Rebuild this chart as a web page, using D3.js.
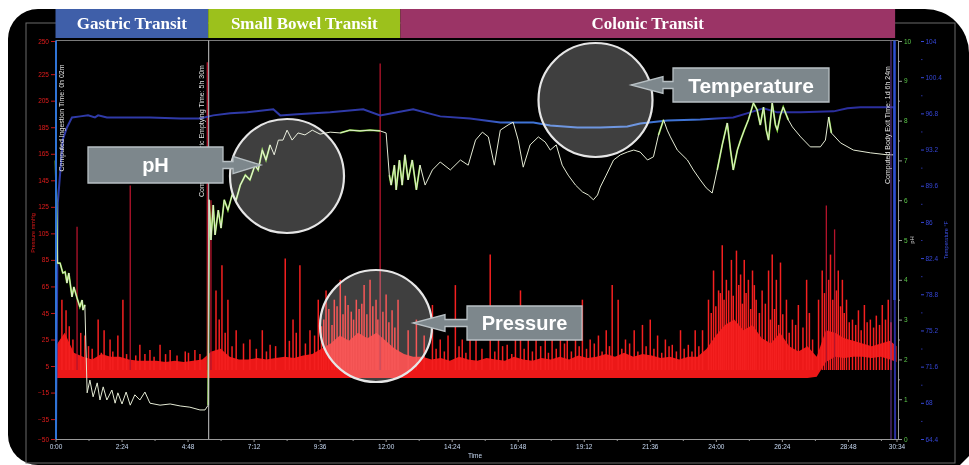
<!DOCTYPE html>
<html lang="en">
<head>
<meta charset="utf-8">
<title>SmartPill motility recording</title>
<script src="https://d3js.org/d3.v7.min.js"></script>
<style>
  body { margin: 0; background: #fff; }
  svg { display: block; }
</style>
</head>
<body>
<script>
// ---- values (time in minutes) ----
var phaseNames  = ["Gastric Transit", "Small Bowel Transit", "Colonic Transit"];
var phaseStart  = [0, 333, 752];
var phaseEnd    = [333, 752, 1831];
var phaseColors = ["#3f5fa9", "#9cc11c", "#9b3466"];

var timeTicks  = [0, 144, 288, 432, 576, 720, 864, 1008, 1152, 1296, 1440, 1584, 1728, 1834];
var timeLabels = ["0:00", "2:24", "4:48", "7:12", "9:36", "12:00", "14:24", "16:48", "19:12", "21:36", "24:00", "26:24", "28:48", "30:34"];
var timeMinor  = [72, 216, 360, 504, 648, 792, 936, 1080, 1224, 1368, 1512, 1656, 1800];

var pressureTicks = [-50, -35, -15, 5, 25, 45, 65, 85, 105, 125, 145, 165, 185, 205, 225, 250];
var phTicks   = [0, 1, 2, 3, 4, 5, 6, 7, 8, 9, 10];
var phMinor   = [0.5, 1.5, 2.5, 3.5, 4.5, 5.5, 6.5, 7.5, 8.5, 9.5];
var tempTicks = [64.4, 68, 71.6, 75.2, 78.8, 82.4, 86, 89.6, 93.2, 96.8, 100.4, 104];
var tempMinor = [66.2, 69.8, 73.4, 77, 80.6, 84.2, 87.8, 91.4, 95, 98.6, 102.2];

var markerTimes  = [2, 333, 1829];
var markerLabels = ["Computed Ingestion Time: 0h 02m", "Computed Gastric Emptying Time: 5h 30m", "Computed Body Exit Time: 1d 6h 24m"];

// pressure baseline band (mmHg), sampled every 20 min
var bandTimes = [0, 20, 40, 60, 80, 100, 120, 140, 160, 180,
  200, 220, 240, 260, 280, 300, 320, 340, 360, 380,
  400, 420, 440, 460, 480, 500, 520, 540, 560, 580,
  600, 620, 640, 660, 680, 700, 720, 740, 760, 780,
  800, 820, 840, 860, 880, 900, 920, 940, 960, 980,
  1000, 1020, 1040, 1060, 1080, 1100, 1120, 1140, 1160, 1180,
  1200, 1220, 1240, 1260, 1280, 1300, 1320, 1340, 1360, 1380,
  1400, 1420, 1440, 1460, 1480, 1500, 1520, 1540, 1560, 1580,
  1600, 1620, 1640, 1660, 1680, 1700, 1720, 1740, 1760, 1780,
  1800, 1820, 1834];
var bandHigh = [20, 30, 15, 12, 10, 14, 12, 12, 10, 9,
  9, 9, 8, 9, 8, 9, 10, 16, 18, 12,
  10, 10, 11, 10, 11, 12, 11, 13, 14, 18,
  22, 28, 24, 30, 26, 30, 24, 18, 14, 12,
  12, 10, 11, 9, 12, 10, 9, 11, 10, 9,
  12, 10, 9, 11, 10, 12, 10, 13, 11, 12,
  14, 12, 15, 12, 14, 13, 11, 12, 10, 12,
  12, 18, 28, 36, 40, 32, 36, 26, 22, 30,
  20, 16, 20, 12, 32, 30, 26, 24, 22, 20,
  22, 24, 20];
var bandLow = [-4, -4, -4, -4, -4, -4, -4, -4, -4, -4,
  -4, -4, -4, -4, -4, -4, -4, -4, -4, -4,
  -4, -4, -4, -4, -4, -4, -4, -4, -4, -4,
  -4, -4, -4, -4, -4, -4, -4, -4, -4, -4,
  -4, -4, -4, -4, -4, -4, -4, -4, -4, -4,
  -4, -4, -4, -4, -4, -4, -4, -4, -4, -4,
  -4, -4, -4, -4, -4, -4, -4, -4, -4, -4,
  -4, -4, -4, -4, -4, -4, -4, -4, -4, -4,
  -4, -4, -4, -3, 8, 12, 11, 12, 12, 11,
  12, 10, 8];

// pressure contractions [minute, peak mmHg]
var pressureSpikes = [
  [14, 55], [23, 47], [30, 35], [38, 25], [47, 110], [55, 30], [64, 28], [72, 20], [80, 18], [93, 40],
  [100, 15], [106, 32], [119, 25], [125, 16], [136, 28], [147, 55], [155, 14], [163, 141], [175, 13], [184, 21],
  [195, 14], [206, 17], [215, 12], [228, 21], [240, 14], [250, 17], [265, 13], [283, 16], [290, 15], [304, 17], [315, 14],
  [331, 234], [339, 130], [350, 62], [357, 40], [363, 81], [370, 30], [376, 55], [385, 20], [394, 32], [410, 22],
  [424, 25], [438, 18], [451, 32], [460, 16], [468, 21], [480, 20], [501, 86], [510, 24], [518, 40], [525, 30],
  [533, 81], [545, 22], [555, 32], [565, 28], [573, 55], [580, 35], [585, 40], [590, 62], [596, 48], [603, 36],
  [608, 55], [614, 50], [621, 70], [627, 44], [632, 58], [638, 51], [645, 46], [650, 40], [656, 55], [662, 48],
  [668, 52], [673, 66], [679, 44], [686, 70], [692, 50], [699, 55], [703, 40], [708, 233], [714, 46], [721, 59],
  [727, 38], [734, 47], [740, 34], [747, 55],
  [769, 32], [787, 40], [804, 28], [822, 51], [830, 18], [839, 25], [848, 16], [856, 28], [872, 66], [880, 20],
  [887, 25], [895, 15], [904, 32], [917, 28], [930, 18], [948, 89], [958, 16], [966, 25], [975, 20], [985, 21],
  [995, 14], [1003, 32], [1014, 62], [1022, 18], [1031, 25], [1040, 16], [1048, 40], [1058, 20], [1068, 25], [1075, 15],
  [1083, 28], [1092, 18], [1101, 36], [1110, 22], [1116, 25], [1125, 16], [1134, 43], [1142, 20], [1149, 55], [1158, 18],
  [1166, 25], [1175, 22], [1184, 28], [1192, 16], [1201, 32], [1208, 20], [1214, 66], [1227, 55], [1235, 18], [1243, 25],
  [1252, 22], [1262, 32], [1270, 16], [1280, 36], [1288, 20], [1297, 40], [1305, 18], [1313, 28], [1322, 15], [1330, 25],
  [1338, 20], [1345, 21], [1354, 16], [1363, 32], [1371, 18], [1380, 21], [1388, 16], [1395, 32], [1403, 20], [1411, 32],
  [1424, 55], [1430, 45], [1435, 77], [1440, 50], [1446, 62], [1450, 60], [1454, 96], [1458, 55], [1463, 70], [1468, 62],
  [1474, 85], [1478, 58], [1485, 92], [1490, 66], [1494, 74], [1498, 52], [1502, 85], [1506, 60], [1511, 70], [1516, 48],
  [1520, 77], [1524, 66], [1528, 55], [1535, 45], [1541, 62], [1548, 52], [1555, 77], [1559, 40], [1563, 89], [1568, 48],
  [1572, 70], [1577, 36], [1581, 83], [1586, 44], [1594, 55], [1600, 30], [1607, 40], [1614, 36], [1620, 51], [1630, 34],
  [1638, 70], [1644, 45], [1651, 25], [1664, 55], [1672, 77], [1677, 60], [1681, 126], [1686, 70], [1690, 89], [1695, 55],
  [1699, 108], [1703, 62], [1707, 77], [1712, 50], [1716, 70], [1720, 45], [1725, 55], [1731, 38], [1738, 40], [1745, 36],
  [1751, 47], [1757, 32], [1764, 51], [1770, 38], [1777, 40], [1784, 34], [1790, 43], [1797, 36], [1803, 51], [1810, 40],
  [1816, 55], [1822, 38]];

// pH trace [minute, pH]
var phReadings = [
  [0, 7.0], [2, 6.0], [4, 4.42], [10, 4.42], [16, 4.17], [21, 4.2], [25, 3.92], [29, 4.17], [36, 3.57], [40, 3.82],
  [47, 3.54], [53, 3.32], [58, 3.49], [60, 3.24], [64, 3.37], [69, 1.16], [75, 1.48], [82, 1.06], [91, 1.41], [97, 0.98],
  [104, 1.31], [112, 0.98], [123, 1.23], [130, 0.9], [136, 1.16], [145, 0.88], [154, 1.18], [163, 0.85], [173, 1.11], [184, 0.98],
  [195, 1.18], [206, 0.9], [228, 0.85], [250, 0.88], [272, 0.83], [293, 0.8], [315, 0.73], [326, 0.73], [333, 0.85], [335, 6.01],
  [339, 5.0], [344, 5.88], [348, 5.13], [355, 5.75], [361, 5.3], [368, 6.01], [376, 5.75], [385, 6.13], [394, 6.01], [403, 6.38],
  [414, 6.63], [424, 6.51], [435, 6.88], [442, 6.76], [451, 7.26], [459, 7.01], [468, 7.39], [477, 7.14], [486, 7.51], [496, 7.51],
  [505, 7.76], [516, 7.51], [529, 7.69], [544, 7.64], [560, 7.76], [577, 7.66], [599, 7.71], [621, 7.69], [642, 7.76], [664, 7.74],
  [686, 7.76], [708, 7.74], [721, 7.69], [728, 6.63], [732, 6.38], [739, 6.88], [743, 6.26], [750, 7.01], [756, 6.38], [762, 7.14],
  [769, 6.51], [778, 7.01], [787, 6.26], [795, 6.88], [806, 6.38], [822, 6.76], [839, 6.96], [861, 6.76], [883, 7.01], [900, 6.88],
  [916, 7.51], [931, 7.71], [944, 7.59], [957, 6.88], [970, 7.76], [987, 7.89], [998, 7.96], [1009, 7.51], [1020, 6.83], [1035, 7.39],
  [1053, 7.59], [1068, 7.46], [1079, 7.26], [1092, 7.39], [1105, 6.88], [1118, 6.63], [1134, 6.38], [1149, 6.21], [1162, 6.13], [1173, 6.01],
  [1182, 6.13], [1188, 6.33], [1201, 6.63], [1217, 7.01], [1232, 7.14], [1247, 7.21], [1261, 7.26], [1275, 7.21], [1291, 7.01], [1304, 7.09],
  [1315, 7.64], [1326, 8.02], [1334, 7.76], [1341, 7.59], [1356, 7.26], [1378, 7.01], [1391, 6.76], [1406, 6.51], [1419, 6.31], [1432, 6.18],
  [1443, 6.76], [1454, 7.39], [1465, 7.94], [1472, 7.26], [1478, 6.76], [1487, 7.26], [1494, 7.51], [1502, 7.76], [1511, 8.02], [1522, 8.44],
  [1530, 8.27], [1537, 7.89], [1544, 8.34], [1550, 7.76], [1555, 7.51], [1563, 8.44], [1570, 7.89], [1574, 7.76], [1581, 8.14], [1587, 8.34],
  [1598, 8.02], [1607, 7.84], [1625, 7.59], [1646, 7.34], [1668, 7.34], [1679, 7.51], [1686, 8.09], [1692, 7.69], [1712, 7.44], [1740, 7.26],
  [1777, 7.19], [1814, 7.14], [1827, 7.14]];
// stretches where the pH trace shows green
var phGreenSpans = [[0, 68], [93, 100], [110, 118], [133, 140], [333, 470], [600, 720], [728, 800], [1310, 1330], [1440, 1600], [1680, 1692]];

// temperature trace [minute, degF]
var tempReadings = [
  [0, 64.4], [1, 64.4], [5, 87.9], [16, 94.2], [25, 95.4], [36, 96.4], [54, 96.5], [71, 96.6], [86, 96.4], [93, 96.6],
  [112, 96.4], [141, 96.4], [206, 96.4], [272, 96.3], [315, 96.3], [344, 96.6], [381, 96.8], [418, 96.9], [475, 97.2], [490, 96.6],
  [527, 96.7], [599, 96.9], [671, 97.2], [708, 96.6], [745, 96.9], [780, 97.2], [839, 96.5], [904, 96.3], [970, 95.9], [1042, 95.9],
  [1079, 95.6], [1138, 95.4], [1188, 95.4], [1247, 95.5], [1275, 95.8], [1334, 96.1], [1406, 96.2], [1478, 96.4], [1515, 96.9], [1544, 97.3],
  [1574, 96.9], [1625, 96.9], [1697, 97.0], [1727, 97.3], [1755, 97.4], [1821, 97.4], [1829, 97.4], [1831, 64.4]];

// ---- layout ----
var width = 969, height = 465;
var plotTop = 40.5, plotBottom = 439, plotLeft = 56, phAxisX = 898, tempAxisX = 921;

var svg = d3.select("body").append("svg")
    .attr("width", width)
    .attr("height", height);

var x = d3.scaleLinear().domain([0, 1834]).range([55.5, 896.5]);
var yP = d3.scaleLinear().domain([-50, 250]).range([plotBottom, 41]);
var yPh = d3.scaleLinear().domain([0, 10]).range([plotBottom, 41]);
var yT = d3.scaleLinear().domain([64.4, 104]).range([plotBottom, 41]);

var defs = svg.append("defs");
var grad = defs.append("linearGradient").attr("id", "tempGrad")
    .attr("gradientUnits", "userSpaceOnUse")
    .attr("x1", x(0)).attr("x2", x(1834)).attr("y1", 0).attr("y2", 0);
[[0, "#2f3aa8"], [0.5, "#2f3aa8"], [0.54, "#3f74d6"], [0.76, "#3f74d6"], [0.8, "#2b2f9e"], [1, "#2b2f9e"]]
  .forEach(function(s) { grad.append("stop").attr("offset", s[0]).attr("stop-color", s[1]); });

// black panel + frame
svg.append("path")
    .attr("d", "M8,39 A30,30 0 0 1 38,9 L925,9 A44,44 0 0 1 969,53 L969,456 L960,465 L38,465 A30,30 0 0 1 8,435 Z")
    .attr("fill", "#000");
svg.append("rect")
    .attr("x", 26).attr("y", 23).attr("width", 929).attr("height", 440)
    .attr("fill", "none").attr("stroke", "#6b6b6b").attr("stroke-width", 1);

// phase banner
var banner = svg.append("g");
banner.selectAll("rect").data(phaseNames).enter().append("rect")
    .attr("x", function(d, i) { return x(phaseStart[i]); })
    .attr("width", function(d, i) { return x(phaseEnd[i]) - x(phaseStart[i]); })
    .attr("y", 9).attr("height", 29)
    .attr("fill", function(d, i) { return phaseColors[i]; });
banner.selectAll("text").data(phaseNames).enter().append("text")
    .attr("x", function(d, i) { return (x(phaseStart[i]) + x(phaseEnd[i])) / 2; })
    .attr("y", 29)
    .attr("text-anchor", "middle")
    .attr("font-family", "'Liberation Serif', 'DejaVu Serif', serif")
    .attr("font-weight", "bold")
    .attr("font-size", 17)
    .attr("fill", "#fff")
    .text(function(d) { return d; });

// plot top line
svg.append("line")
    .attr("x1", plotLeft).attr("x2", phAxisX).attr("y1", plotTop).attr("y2", plotTop)
    .attr("stroke", "#7a7a7a");

// pressure: baseline band and contractions
var band = bandTimes.map(function(t, i) { return [t, bandLow[i], bandHigh[i]]; });
svg.append("path")
    .datum(band)
    .attr("fill", "#ec1818")
    .attr("d", d3.area()
        .x(function(d) { return x(d[0]); })
        .y0(function(d) { return yP(d[1]); })
        .y1(function(d) { return yP(d[2]); }));

svg.append("g").selectAll("line")
    .data(pressureSpikes)
    .enter().append("line")
    .attr("x1", function(d) { return x(d[0]); })
    .attr("x2", function(d) { return x(d[0]); })
    .attr("y1", yP(2))
    .attr("y2", function(d) { return yP(d[1]); })
    .attr("stroke", function(d) { return d[1] > 100 ? "#b5142c" : "#f42020"; })
    .attr("stroke-width", function(d) { return d[1] > 100 ? 1.3 : 1.5; });

// temperature
svg.append("path")
    .datum(tempReadings)
    .attr("fill", "none")
    .attr("stroke", "url(#tempGrad)")
    .attr("stroke-width", 2)
    .attr("d", d3.line()
        .x(function(d) { return x(d[0]); })
        .y(function(d) { return yT(d[1]); }));

// pH: green stretches under a pale trace
var phLine = d3.line()
    .x(function(d) { return x(d[0]); })
    .y(function(d) { return yPh(d[1]); });
phGreenSpans.forEach(function(s) {
    var pts = phReadings.filter(function(d) { return d[0] >= s[0] && d[0] <= s[1]; });
    svg.append("path").datum(pts)
        .attr("fill", "none").attr("stroke", "#86d83c").attr("stroke-width", 1.8)
        .attr("d", phLine);
});
svg.append("path")
    .datum(phReadings)
    .attr("fill", "none")
    .attr("stroke", "#e4ead4")
    .attr("stroke-width", 1)
    .attr("d", phLine);

// marker lines
svg.append("line")
    .attr("x1", plotLeft).attr("x2", plotLeft).attr("y1", plotTop).attr("y2", plotBottom)
    .attr("stroke", "#2f74d6").attr("stroke-width", 2);
svg.append("line")
    .attr("x1", x(markerTimes[1]) + 0.5).attr("x2", x(markerTimes[1]) + 0.5).attr("y1", plotTop).attr("y2", plotBottom)
    .attr("stroke", "#c8c8c8").attr("stroke-width", 1);
svg.append("line")
    .attr("x1", 891).attr("x2", 891).attr("y1", plotTop).attr("y2", plotBottom)
    .attr("stroke", "#6a3c9e").attr("stroke-width", 1);
svg.append("line")
    .attr("x1", 894.5).attr("x2", 894.5).attr("y1", plotTop).attr("y2", 300)
    .attr("stroke", "#2d4fd0").attr("stroke-width", 2.5);

svg.selectAll(".marker").data(markerLabels).enter().append("text")
    .attr("class", "marker")
    .attr("transform", function(d, i) {
        var cx = i === 0 ? x(markerTimes[i]) + 8 : x(markerTimes[i]) - 4;
        var cy = [118, 131, 125][i];
        return "translate(" + cx + "," + cy + ") rotate(-90)";
    })
    .attr("text-anchor", "middle")
    .attr("font-family", "'Liberation Sans', Arial, sans-serif")
    .attr("font-size", 7)
    .attr("fill", "#e2e2e2")
    .text(function(d) { return d; });

// axes
var font = "'Liberation Sans', Arial, sans-serif";
function styleAxis(g, color, lineColor) {
    g.attr("font-family", font).attr("font-size", 6.5);
    g.selectAll("text").attr("fill", color);
    g.selectAll("line").attr("stroke", lineColor);
    g.select(".domain").attr("stroke", lineColor);
}

var xAxis = svg.append("g")
    .attr("transform", "translate(0," + plotBottom + ")")
    .call(d3.axisBottom(x).tickValues(timeTicks).tickSize(3).tickPadding(2)
        .tickFormat(function(d, i) { return timeLabels[i]; }));
styleAxis(xAxis, "#c6d8f2", "#9a9a9a");
xAxis.select(".domain").attr("d", "M" + plotLeft + ",0.5H" + phAxisX);
svg.append("g")
    .attr("transform", "translate(0," + plotBottom + ")")
    .call(d3.axisBottom(x).tickValues(timeMinor).tickSize(2).tickFormat(""))
    .call(function(g) { g.select(".domain").remove(); g.selectAll("line").attr("stroke", "#9a9a9a"); });
svg.append("text")
    .attr("x", 475).attr("y", 458)
    .attr("text-anchor", "middle")
    .attr("font-family", font).attr("font-size", 6.5)
    .attr("fill", "#c6d8f2")
    .text("Time");

var pAxis = svg.append("g")
    .attr("transform", "translate(" + 55 + ",0)")
    .call(d3.axisLeft(yP).tickValues(pressureTicks).tickSize(4).tickPadding(2));
styleAxis(pAxis, "#e01c1c", "#c81818");
pAxis.select(".domain").remove();
svg.append("text")
    .attr("transform", "translate(35,233) rotate(-90)")
    .attr("text-anchor", "middle")
    .attr("font-family", font).attr("font-size", 5.5)
    .attr("fill", "#d81818")
    .text("Pressure mmHg");

var phAxis = svg.append("g")
    .attr("transform", "translate(" + phAxisX + ",0)")
    .call(d3.axisRight(yPh).tickValues(phTicks).tickSize(4).tickPadding(2));
styleAxis(phAxis, "#5cc84a", "#9a9a9a");
phAxis.select(".domain").attr("d", "M0.5," + plotTop + "V" + plotBottom);
svg.append("g")
    .attr("transform", "translate(" + phAxisX + ",0)")
    .call(d3.axisRight(yPh).tickValues(phMinor).tickSize(2).tickFormat(""))
    .call(function(g) { g.select(".domain").remove(); g.selectAll("line").attr("stroke", "#9a9a9a"); });
svg.append("text")
    .attr("transform", "translate(914,240) rotate(-90)")
    .attr("text-anchor", "middle")
    .attr("font-family", font).attr("font-size", 6)
    .attr("fill", "#d0d0d0")
    .text("pH");

var tAxis = svg.append("g")
    .attr("transform", "translate(" + tempAxisX + ",0)")
    .call(d3.axisRight(yT).tickValues(tempTicks).tickSize(3).tickPadding(1.5)
        .tickFormat(function(d) { return d3.format("~f")(d); }));
styleAxis(tAxis, "#3546d6", "#3546d6");
tAxis.select(".domain").remove();
svg.append("g")
    .attr("transform", "translate(" + tempAxisX + ",0)")
    .call(d3.axisRight(yT).tickValues(tempMinor).tickSize(1.5).tickFormat(""))
    .call(function(g) { g.select(".domain").remove(); g.selectAll("line").attr("stroke", "#28309a"); });
svg.append("text")
    .attr("transform", "translate(948,240) rotate(-90)")
    .attr("text-anchor", "middle")
    .attr("font-family", font).attr("font-size", 5.5)
    .attr("fill", "#3a4ee0")
    .text("Temperature °F");

// callouts
var callouts = [
    {label: "pH", cx: 287, cy: 176, r: 57, box: [88, 223, 147, 183], tip: 261, head: 233, size: 20},
    {label: "Temperature", cx: 595.5, cy: 100, r: 57, box: [673, 829, 68, 102], tip: 631, head: 663, size: 21},
    {label: "Pressure", cx: 376, cy: 326, r: 56, box: [467, 582, 306, 340], tip: 413, head: 445, size: 20}
];
callouts.forEach(function(c) {
    var g = svg.append("g");
    g.append("circle")
        .attr("cx", c.cx).attr("cy", c.cy).attr("r", c.r)
        .attr("fill", "#3f3f3f")
        .style("mix-blend-mode", "screen");
    g.append("circle")
        .attr("cx", c.cx).attr("cy", c.cy).attr("r", c.r)
        .attr("fill", "none").attr("stroke", "#e6e6e6").attr("stroke-width", 2.2);

    var x0 = c.box[0], x1 = c.box[1], y0 = c.box[2], y1 = c.box[3];
    var my = (y0 + y1) / 2, sh = 3.5, hh = 8.5;
    var p = d3.path();
    if (c.tip > x1) {
        p.moveTo(x0, y0); p.lineTo(x1, y0); p.lineTo(x1, my - sh); p.lineTo(c.head, my - sh);
        p.lineTo(c.head, my - hh); p.lineTo(c.tip, my); p.lineTo(c.head, my + hh); p.lineTo(c.head, my + sh);
        p.lineTo(x1, my + sh); p.lineTo(x1, y1); p.lineTo(x0, y1); p.closePath();
    } else {
        p.moveTo(x0, y0); p.lineTo(x1, y0); p.lineTo(x1, y1); p.lineTo(x0, y1); p.lineTo(x0, my + sh);
        p.lineTo(c.head, my + sh); p.lineTo(c.head, my + hh); p.lineTo(c.tip, my); p.lineTo(c.head, my - hh);
        p.lineTo(c.head, my - sh); p.lineTo(x0, my - sh); p.closePath();
    }
    g.append("path")
        .attr("d", p.toString())
        .attr("fill", "#7d878c")
        .attr("stroke", "#b8c0c4")
        .attr("stroke-width", 1.3);
    g.append("text")
        .attr("x", (x0 + x1) / 2).attr("y", my)
        .attr("dy", "0.36em")
        .attr("text-anchor", "middle")
        .attr("font-family", font)
        .attr("font-weight", "bold")
        .attr("font-size", c.size)
        .attr("fill", "#fff")
        .text(c.label);
});
</script>
</body>
</html>
